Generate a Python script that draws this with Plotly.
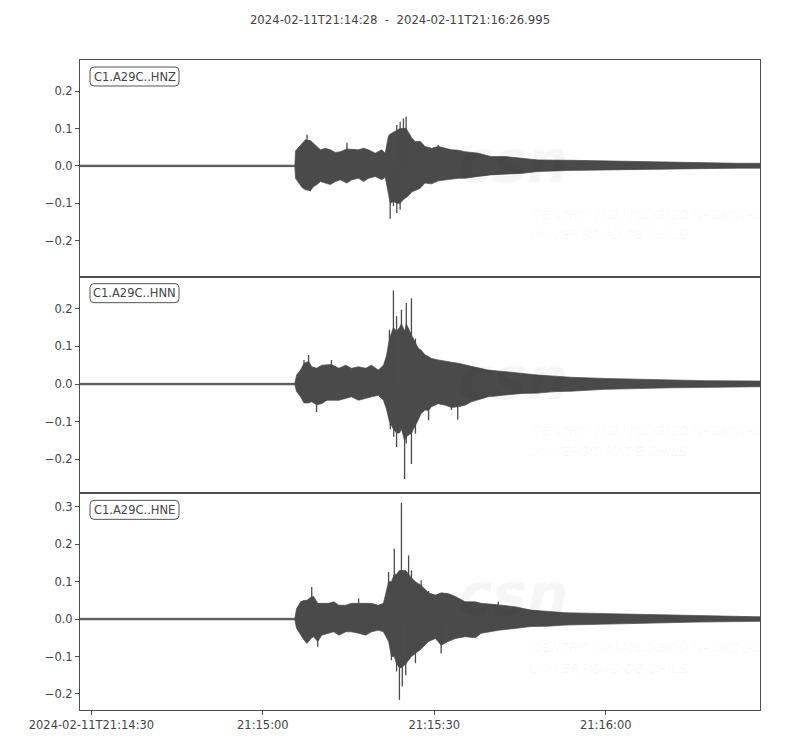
import pandas as pd
import plotly.graph_objects as go
from plotly.subplots import make_subplots

# envelope readings: seconds after 2024-02-11T21:14:28, upper and lower amplitude
hnz_t = [0, 37.6, 37.71, 38.28, 38.86, 39.45, 40.32, 40.9, 41.47, 42.07, 42.94, 43.81, 44.68, 45.55,
         46.71, 47.58, 48.75, 49.62, 50.49, 51.66, 52.81, 53.4, 53.98, 54.28, 54.85, 55.43, 56.02,
         56.6, 57.07, 57.47, 58.04, 58.64, 59.51, 60.38, 61.53, 62.7, 63.87, 65.02, 66.19, 67.36,
         69.68, 71.9, 74.4, 77.2, 80.1, 85.9, 91.8, 97.6, 103.3, 109.3, 115.0, 118.995]
hnz_up = [0.002, 0.002, 0.04, 0.05, 0.062, 0.07, 0.068, 0.06, 0.05, 0.043, 0.047, 0.043, 0.036, 0.038,
          0.045, 0.044, 0.043, 0.047, 0.043, 0.034, 0.043, 0.034, 0.08, 0.085, 0.09, 0.095, 0.1,
          0.1, 0.1, 0.09, 0.075, 0.065, 0.066, 0.052, 0.047, 0.052, 0.047, 0.043, 0.042, 0.038,
          0.034, 0.025, 0.025, 0.02, 0.016, 0.015, 0.013, 0.012, 0.01, 0.009, 0.007, 0.007]
hnz_dn = [-0.002, -0.002, -0.033, -0.046, -0.058, -0.064, -0.066, -0.055, -0.05, -0.042, -0.046, -0.05, -0.042, -0.037,
          -0.046, -0.037, -0.033, -0.042, -0.033, -0.028, -0.037, -0.03, -0.075, -0.1, -0.095, -0.1, -0.1,
          -0.09, -0.085, -0.08, -0.07, -0.066, -0.06, -0.046, -0.048, -0.04, -0.037, -0.035, -0.033, -0.033,
          -0.028, -0.024, -0.022, -0.02, -0.015, -0.012, -0.011, -0.009, -0.008, -0.007, -0.006, -0.006]

hnn_t = [0, 37.6, 37.9, 38.6, 39.2, 40.0, 40.55, 41.4, 42.3, 43.2, 44.0, 45.3, 46.5, 47.5, 48.75,
         50.0, 51.0, 52.2, 53.1, 53.6, 54.15, 54.85, 55.4, 55.9, 56.25, 56.8, 57.1, 58.0, 58.7,
         59.2, 59.7, 60.4, 61.0, 61.5, 62.7, 63.9, 65.0, 66.2, 67.4, 68.5, 71.4, 74.4, 77.2, 80.1,
         83.1, 85.9, 91.8, 97.6, 103.3, 109.3, 118.995]
hnn_up = [0.002, 0.002, 0.024, 0.037, 0.055, 0.06, 0.046, 0.042, 0.05, 0.05, 0.052, 0.042, 0.05, 0.042, 0.046,
          0.042, 0.05, 0.037, 0.05, 0.073, 0.12, 0.15, 0.14, 0.15, 0.16, 0.14, 0.16, 0.13, 0.11,
          0.095, 0.09, 0.077, 0.073, 0.068, 0.064, 0.06, 0.058, 0.055, 0.051, 0.046, 0.037, 0.033, 0.028, 0.024,
          0.021, 0.018, 0.015, 0.012, 0.011, 0.009, 0.008]
hnn_dn = [-0.002, -0.002, -0.02, -0.034, -0.05, -0.05, -0.047, -0.055, -0.052, -0.043, -0.043, -0.043, -0.038, -0.034, -0.043,
          -0.038, -0.034, -0.03, -0.043, -0.065, -0.1, -0.12, -0.13, -0.13, -0.12, -0.15, -0.14, -0.13, -0.11,
          -0.095, -0.078, -0.069, -0.07, -0.06, -0.052, -0.056, -0.062, -0.06, -0.056, -0.047, -0.034, -0.029, -0.025, -0.024,
          -0.02, -0.019, -0.014, -0.012, -0.01, -0.008, -0.007]

hne_t = [0, 37.6, 37.9, 38.6, 39.2, 39.7, 40.55, 40.9, 41.6, 42.3, 43.5, 44.4, 45.3, 46.5, 47.5,
         48.75, 50.0, 51.0, 52.2, 53.1, 54.0, 54.5, 55.0, 55.4, 55.9, 56.25, 57.0, 57.5, 58.0,
         58.7, 59.7, 61.0, 62.2, 63.2, 64.4, 65.7, 67.4, 69.2, 70.2, 73.2, 76.1, 78.9, 81.9,
         84.9, 90.6, 96.4, 102.3, 108.0, 116.8, 118.995]
hne_up = [0.002, 0.002, 0.028, 0.046, 0.05, 0.05, 0.06, 0.06, 0.042, 0.042, 0.042, 0.046, 0.037, 0.037, 0.042,
          0.042, 0.042, 0.042, 0.037, 0.042, 0.1, 0.1, 0.12, 0.12, 0.13, 0.13, 0.13, 0.12, 0.11,
          0.1, 0.09, 0.07, 0.064, 0.07, 0.068, 0.06, 0.046, 0.046, 0.042, 0.038, 0.033, 0.024, 0.02,
          0.017, 0.015, 0.013, 0.011, 0.008, 0.006, 0.006]
hne_dn = [-0.002, -0.002, -0.025, -0.043, -0.056, -0.065, -0.05, -0.047, -0.06, -0.043, -0.038, -0.034, -0.043, -0.034, -0.034,
          -0.038, -0.043, -0.034, -0.03, -0.034, -0.06, -0.1, -0.1, -0.12, -0.13, -0.13, -0.12, -0.11, -0.1,
          -0.092, -0.08, -0.06, -0.052, -0.07, -0.06, -0.052, -0.047, -0.05, -0.038, -0.03, -0.025, -0.02, -0.019,
          -0.016, -0.013, -0.012, -0.01, -0.008, -0.006, -0.006]

# single swings that stick out of the envelope (seconds, amplitude)
hnz_spike_t = [39.73, 40.32, 46.71, 54.28, 54.85, 55.43, 55.43, 56.02, 56.02, 56.6, 57.07, 62.7]
hnz_spike_v = [0.083, -0.068, 0.062, -0.141, -0.108, 0.109, -0.126, 0.118, -0.117, 0.127, 0.132, 0.056]
hnn_spike_t = [39.2, 40.0, 41.4, 44.0, 54.15, 54.3, 54.85, 54.9, 55.4, 55.4, 56.25, 56.8, 57.1, 57.1,
               58.0, 58.0, 58.7, 58.7, 61.0, 65.0, 66.1]
hnn_spike_v = [0.064, 0.077, -0.074, 0.064, 0.144, -0.12, 0.248, -0.14, 0.18, -0.167, 0.197, -0.252, 0.215, -0.158,
               0.228, -0.212, 0.12, -0.132, -0.096, -0.069, -0.095]
hne_spike_t = [40.55, 41.6, 48.75, 54.0, 54.5, 55.0, 55.4, 55.9, 56.25, 56.4, 57.0, 57.5, 58.0, 58.7,
               59.7, 61.0, 63.2, 73.2]
hne_spike_v = [0.086, -0.074, 0.055, 0.126, -0.11, 0.188, -0.14, -0.216, 0.311, -0.18, -0.15, 0.17, 0.13, -0.118,
               0.104, 0.075, -0.092, 0.046]

channels = ["C1.A29C..HNZ", "C1.A29C..HNN", "C1.A29C..HNE"]
y_ranges = [[-0.296, 0.283], [-0.29, 0.285], [-0.243, 0.336]]
y_ticks = [[-0.2, -0.1, 0.0, 0.1, 0.2], [-0.2, -0.1, 0.0, 0.1, 0.2], [-0.2, -0.1, 0.0, 0.1, 0.2, 0.3]]

start = pd.Timestamp("2024-02-11 21:14:28")
x_ticks = ["2024-02-11 21:14:30", "2024-02-11 21:15:00", "2024-02-11 21:15:30", "2024-02-11 21:16:00"]
x_ticktext = ["2024-02-11T21:14:30", "21:15:00", "21:15:30", "21:16:00"]

ink = "#4a4a4a"
frame = "#4d4d4d"
font = "DejaVu Sans"
PLOT_W, PANEL_H = 680, 650 / 3


def to_time(sec):
    return list(start + pd.to_timedelta(sec, unit="s"))


def rounded_box(x0, x1, y0, y1, r=4):
    """SVG path of a rounded rectangle in domain units (y0 bottom, y1 top)."""
    rx, ry = r / PLOT_W, r / PANEL_H
    return (f"M {x0 + rx},{y0} L {x1 - rx},{y0} Q {x1},{y0} {x1},{y0 + ry} "
            f"L {x1},{y1 - ry} Q {x1},{y1} {x1 - rx},{y1} "
            f"L {x0 + rx},{y1} Q {x0},{y1} {x0},{y1 - ry} "
            f"L {x0},{y0 + ry} Q {x0},{y0} {x0 + rx},{y0} Z")


fig = make_subplots(rows=3, cols=1, shared_xaxes=True, vertical_spacing=0)

traces = [(hnz_t, hnz_up, hnz_dn, hnz_spike_t, hnz_spike_v),
          (hnn_t, hnn_up, hnn_dn, hnn_spike_t, hnn_spike_v),
          (hne_t, hne_up, hne_dn, hne_spike_t, hne_spike_v)]

for i, (t, up, dn, sp_t, sp_v) in enumerate(traces):
    row = i + 1
    times = to_time(t)
    # envelope as a closed band: upper forward, lower back
    fig.add_trace(go.Scatter(
        x=times + times[::-1], y=up + dn[::-1],
        mode="lines", fill="toself", fillcolor=ink,
        line=dict(color=ink, width=0.7), hoverinfo="skip", showlegend=False
    ), row=row, col=1)

    sx, sy = [], []
    for st, v in zip(to_time(sp_t), sp_v):
        sx += [st, st, None]
        sy += [0, v, None]
    fig.add_trace(go.Scatter(
        x=sx, y=sy, mode="lines", line=dict(color=ink, width=1.3),
        hoverinfo="skip", showlegend=False
    ), row=row, col=1)

    axis = "" if row == 1 else str(row)
    dom = dict(xref=f"x{axis} domain", yref=f"y{axis} domain", showarrow=False)
    # faint CSN watermark
    wm = "rgba(0,0,0,0.035)"
    fig.add_annotation(text="csn", x=0.637, y=0.53, **dom,
                       font=dict(family="DejaVu Sans", size=58, color=wm, weight="bold", style="italic"))
    fig.add_annotation(text="CENTRO SISMOLÓGICO NACIONAL", x=0.662, y=0.245, xanchor="left", **dom,
                       font=dict(family="Liberation Sans", size=13.5, color=wm, style="italic"))
    fig.add_annotation(text="UNIVERSIDAD DE CHILE", x=0.658, y=0.15, xanchor="left", **dom,
                       font=dict(family="Liberation Sans", size=13.5, color=wm, style="italic"))

    # channel label in a rounded box
    fig.add_shape(type="path", path=rounded_box(10 / PLOT_W, 99 / PLOT_W, 1 - 26 / PANEL_H, 1 - 7 / PANEL_H),
                  xref=f"x{axis} domain", yref=f"y{axis} domain",
                  fillcolor="white", line=dict(color="#555", width=1))
    fig.add_annotation(text=channels[i], x=54.5 / PLOT_W, y=1 - 16.5 / PANEL_H,
                       xanchor="center", yanchor="middle", **dom,
                       font=dict(family=font, size=11.5, color="#444"))

    fig.update_yaxes(range=y_ranges[i], tickvals=y_ticks[i], tickformat=".1f",
                     row=row, col=1)

fig.update_yaxes(showline=True, mirror=True, linecolor=frame, linewidth=1,
                 ticks="outside", ticklen=4, tickcolor=frame, showgrid=False, zeroline=False,
                 tickfont=dict(family=font, size=11.5, color="#444"))
fig.update_xaxes(showline=True, mirror=True, linecolor=frame, linewidth=1,
                 showgrid=False, zeroline=False, range=[start, start + pd.Timedelta(seconds=118.995)],
                 tickvals=x_ticks, ticktext=x_ticktext)
fig.update_xaxes(ticks="outside", ticklen=4, tickcolor=frame,
                 tickfont=dict(family=font, size=11.5, color="#444"), row=3, col=1)
fig.update_xaxes(ticks="", row=1, col=1)
fig.update_xaxes(ticks="", row=2, col=1)

# the page body adds an 8px margin, so the figure is 8px smaller
fig.update_layout(
    width=792, height=742,
    margin=dict(l=72, r=40, t=52, b=40),
    plot_bgcolor="white", paper_bgcolor="white",
    title=dict(text="2024-02-11T21:14:28\u00a0\u00a0-\u00a0\u00a02024-02-11T21:16:26.995",
               x=(400 - 8) / 792, xanchor="center", y=1 - 12 / 742, yanchor="middle",
               font=dict(family=font, size=11.7, color="#444")),
    showlegend=False,
)

fig.write_html("out.html")
